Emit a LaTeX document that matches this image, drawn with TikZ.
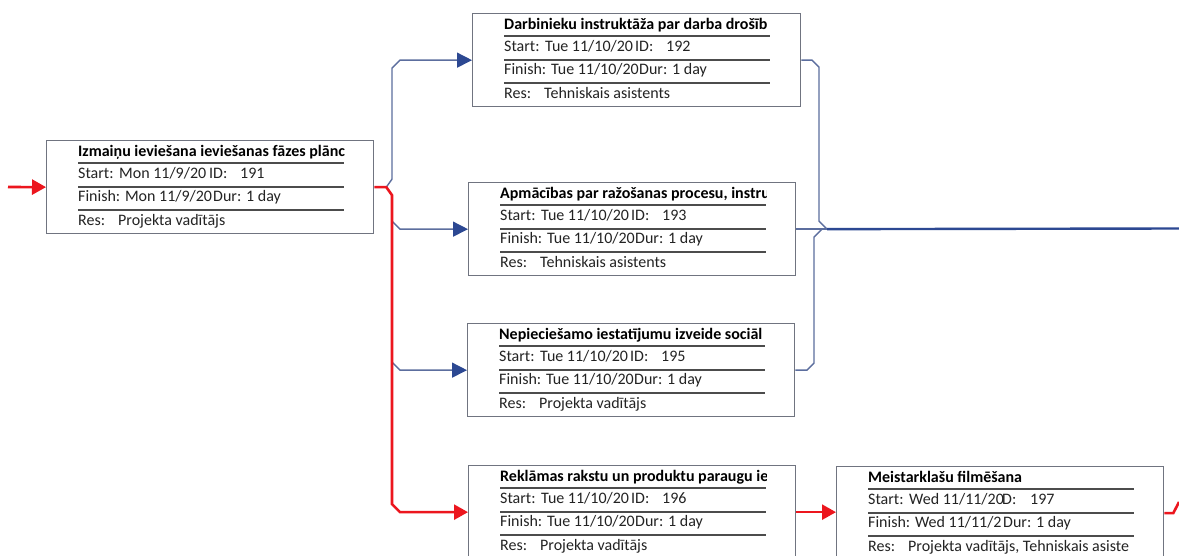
\documentclass[tikz,border=0pt]{standalone}
\usepackage{fontspec}
\setmainfont{Carlito}
\usetikzlibrary{calc,arrows.meta}
\definecolor{boxgray}{RGB}{112,116,128}
\definecolor{blueline}{RGB}{92,110,158}
\definecolor{bluedark}{RGB}{44,72,146}
\definecolor{redc}{RGB}{236,22,30}
\definecolor{txtc}{RGB}{35,35,35}
\newcommand\fsz{\fontsize{16}{18}\selectfont}
\newcommand\idcol{131}
\newcommand\numcol{162}
\newcommand\durcol{135}
% #1 name #2 title #3 start #4 id label #5 id #6 finish #7 dur text #8 res
\newcommand\taskbox[8]{%
  \coordinate (o) at ($(#1.north west)+(32,0)$);
  \begin{scope}
    \clip ($(o)+(-2,1)$) rectangle ($(o)+(266,21)$);
    \node[ttl] at ($(o)+(0,13)$) {#2};
  \end{scope}
  \draw[sepline] ($(o)+(0,23)$) -- ++(266,0);
  \node[txt] at ($(o)+(0,35)$) {Start:\ \hspace{2pt}#3};
  \node[txt] at ($(o)+(\idcol,35)$) {#4};
  \node[txt] at ($(o)+(\numcol,35)$) {#5};
  \draw[sepline] ($(o)+(0,47)$) -- ++(266,0);
  \node[txt] at ($(o)+(0,58)$) {Finish: #6};
  \node[txt] at ($(o)+(\durcol,58)$) {#7};
  \draw[sepline] ($(o)+(0,70)$) -- ++(266,0);
  \node[txt] at ($(o)+(0,82)$) {Res:};
  \node[txt] at ($(o)+(40,82)$) {#8};
}
\begin{document}
\begin{tikzpicture}[x=1pt,y=-1pt,
  txt/.style={anchor=west,inner sep=0pt,text height=11pt,text depth=4pt,text=txtc,font=\fsz},
  ttl/.style={txt,text=black,font=\fsz\bfseries},
  box/.style={draw=boxgray,line width=1.3pt,minimum width=327pt,minimum height=93pt,inner sep=0pt,anchor=north west,fill=white},
  sepline/.style={draw=black!70,line width=1.2pt},
  bl/.style={draw=blueline,line width=1.4pt},
  blthick/.style={draw=bluedark,line width=2.4pt},
  blarrow/.style={bl,-{Triangle[length=15pt,width=15pt,color=bluedark]}},
  rd/.style={draw=redc,line width=2.6pt},
  rdarrow/.style={rd,-{Triangle[length=14pt,width=15pt,color=redc]}}]
\clip (0,0) rectangle (1179,556);
\fill[white] (0,0) rectangle (1179,556);

\node[box] (b191) at (46,140) {};
\node[box,minimum width=328pt] (b192) at (472,13) {};
\node[box] (b193) at (468,182) {};
\node[box] (b195) at (467,323) {};
\node[box] (b196) at (468,465) {};
\node[box] (b197) at (836,466) {};

\coordinate (src) at (8,187);
\coordinate (rv) at (392,0);
\coordinate (rv2) at (819,0);
\coordinate (rv3) at (814,0);
\coordinate (outR) at (1179,228.5);
\coordinate (outB) at (1179,502);

% blue branches
\draw[blarrow] ($(b191.east)+(12,0)$) -- ($(rv |- b191.east)+(0,-8)$) -- ($(rv |- b192.west)+(0,8)$) -- ($(rv |- b192.west)+(8,0)$) -- (b192.west);
\draw[blarrow] ($(rv |- b193.west)+(0,-8)$) -- ($(rv |- b193.west)+(8,0)$) -- (b193.west);
\draw[blarrow] ($(rv |- b195.west)+(0,-8)$) -- ($(rv |- b195.west)+(8,0)$) -- (b195.west);

% right side merge
\draw[bl] (b192.east) -- ($(rv2 |- b192.east)+(-7,0)$) -- ($(rv2 |- b192.east)+(0,7)$) -- ($(rv2 |- b193.east)+(0,-8)$) -- ($(rv2 |- b193.east)+(8,0)$);
\draw[bl] (b193.east) -- ($(rv2 |- b193.east)+(8,0)$);
\draw[bl] (b195.east) -- ($(rv3 |- b195.east)+(-7,0)$) -- ($(rv3 |- b195.east)+(0,-7)$) -- ($(rv3 |- b193.east)+(0,8)$) -- ($(rv3 |- b193.east)+(8,0)$);
\draw[blthick] ($(rv2 |- b193.east)+(8,0)$) -- (outR);

% red critical path
\draw[rdarrow] (src) -- (b191.west);
\draw[rdarrow] (b191.east) -- ++(12,0) -- ($(rv |- b191.east)+(0,8)$) -- ($(rv |- b196.west)+(0,-8)$) -- ($(rv |- b196.west)+(8,0)$) -- (b196.west);
\draw[rdarrow] (b196.east) -- (b196.east -| b197.west);
\draw[rd] (b197.east) -- ++(9,0) -- (outB);

\begin{scope}
\clip (b191.north west) rectangle ($(b191.north west)+(298,93)$);
\taskbox{b191}{Izmaiņu ieviešana ieviešanas fāzes plānc}{Mon 11/9/20}{ID:}{191}{Mon 11/9/20}{Dur: 1 day}{Projekta vadītājs}
\end{scope}
\taskbox{b192}{Darbinieku instruktāža par darba drošīb}{Tue 11/10/20}{ID:}{192}{Tue 11/10/20}{Dur: 1 day}{Tehniskais asistents}
\taskbox{b193}{Apmācības par ražošanas procesu, instru}{Tue 11/10/20}{ID:}{193}{Tue 11/10/20}{Dur: 1 day}{Tehniskais asistents}
\taskbox{b195}{Nepieciešamo iestatījumu izveide sociāl}{Tue 11/10/20}{ID:}{195}{Tue 11/10/20}{Dur: 1 day}{Projekta vadītājs}
\taskbox{b196}{Reklāmas rakstu un produktu paraugu ie}{Tue 11/10/20}{ID:}{196}{Tue 11/10/20}{Dur: 1 day}{Projekta vadītājs}
\renewcommand\idcol{134}
\taskbox{b197}{Meistarklašu filmēšana}{Wed 11/11/20}{D:}{197}{Wed 11/11/2}{Dur: 1 day}{Projekta vadītājs, Tehniskais asiste}
\end{tikzpicture}
\end{document}
